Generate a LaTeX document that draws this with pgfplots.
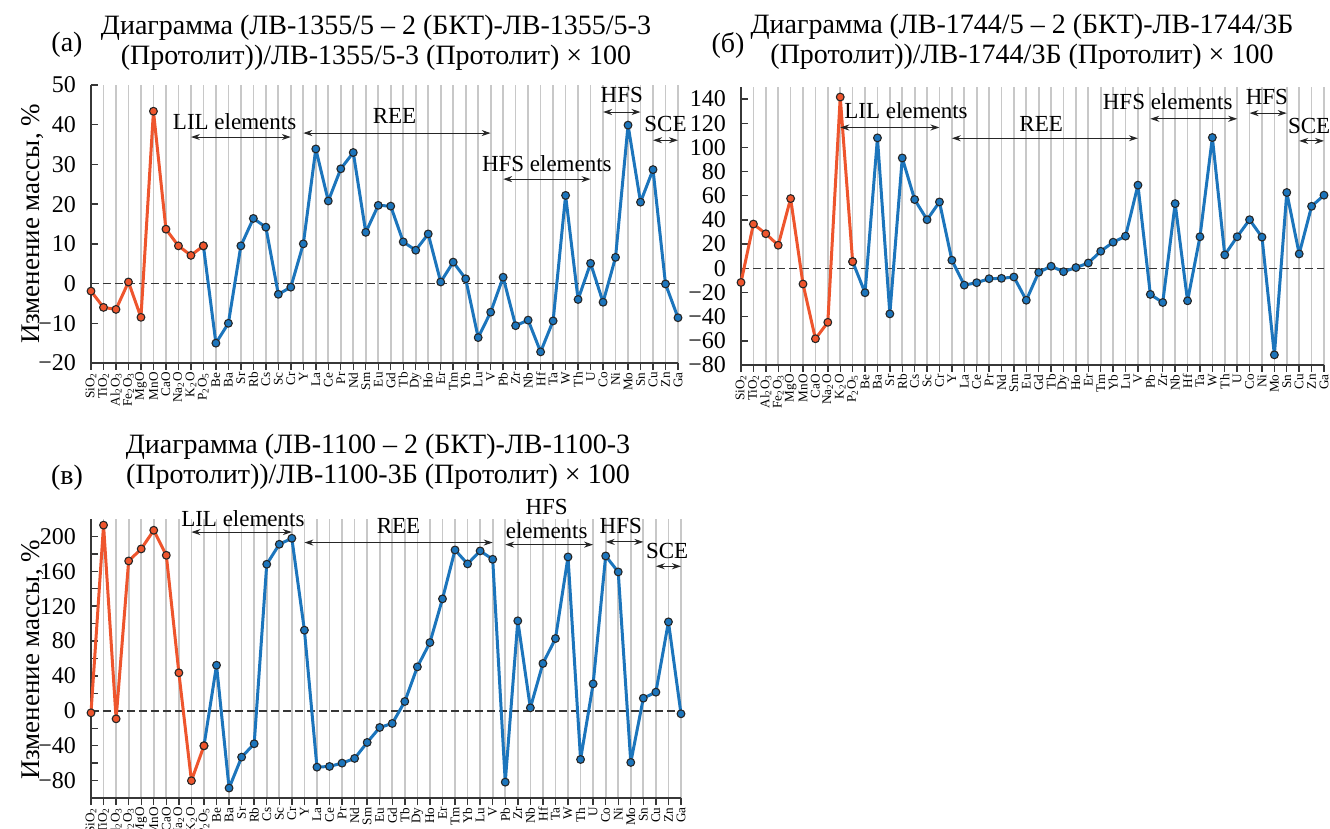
\documentclass[border=0pt]{standalone}
\usepackage{fontspec}
\setmainfont{Liberation Serif}
\usepackage{pgfplots}
\pgfplotsset{compat=1.18}
\usetikzlibrary{arrows.meta}
\definecolor{cOr}{RGB}{238,85,45}
\definecolor{cBl}{RGB}{28,117,188}
\definecolor{cGrid}{RGB}{200,200,200}
\definecolor{cAx}{RGB}{55,55,55}
\pgfplotsset{
  panel/.style={
    scale only axis, clip=false,
    xmin=0, xmax=47,
    axis x line*=bottom, axis y line*=left,
    axis line style={line width=0.8pt, color=cAx},
    xtick={0,...,47},
    xticklabels={SiO\textsubscript{2},TiO\textsubscript{2},Al\textsubscript{2}O\textsubscript{3},Fe\textsubscript{2}O\textsubscript{3},MgO,MnO,CaO,Na\textsubscript{2}O,K\textsubscript{2}O,P\textsubscript{2}O\textsubscript{5},Be,Ba,Sr,Rb,Cs,Sc,Cr,Y,La,Ce,Pr,Nd,Sm,Eu,Gd,Tb,Dy,Ho,Er,Tm,Yb,Lu,V,Pb,Zr,Nb,Hf,Ta,W,Th,U,Co,Ni,Mo,Sn,Cu,Zn,Ga},
    xticklabel style={rotate=90, anchor=east, font=\fontsize{6.6}{7}\selectfont, inner sep=1pt},
    yticklabel style={font=\fontsize{12}{13}\selectfont, xshift=-0.5pt},
    tick align=outside,
    major tick length=3.5pt,
    minor tick length=3.5pt,
    tick style={color=cAx, line width=0.7pt},
    ytick style={xshift=3.5pt},
    xmajorgrids,
    major x grid style={cGrid, line width=0.85pt},
  },
  zero/.style={cAx, line width=0.7pt, dash pattern=on 4pt off 2pt},
  blu/.style={cBl, line width=1.5pt, line join=round, line cap=round, mark=*, mark size=1.95pt, mark options={fill=cBl, draw=black!85, line width=0.55pt, solid}},
  ora/.style={cOr, line width=1.5pt, line join=round, line cap=round, mark=*, mark size=1.95pt, mark options={fill=cOr, draw=black!85, line width=0.55pt, solid}},
}
\tikzset{
  ann/.style={{Stealth[length=4.5pt,width=3pt]}-{Stealth[length=4.5pt,width=3pt]}, line width=0.5pt, black!85},
  lab/.style={font=\fontsize{11.5}{12}\selectfont, inner sep=0pt, align=center},
  ttl/.style={font=\fontsize{14}{15.2}\selectfont, align=center, inner sep=0pt},
}
\begin{document}
\begin{tikzpicture}
\useasboundingbox (0,0) rectangle (665pt,-414.5pt);
% ---------------- (a) ----------------
\begin{axis}[panel, at={(45.5pt,-181.5pt)}, anchor=south west,
  width=293.5pt, height=139pt, ymin=-20, ymax=50,
  ytick={-20,-10,0,10,20,30,40,50},
  yticklabels={−20,−10,0,10,20,30,40,50}]
\addplot[zero] coordinates {(0,0) (47,0)};
\addplot[blu] coordinates {
(9,9.5) (10,-15.0) (11,-10.0) (12,9.5) (13,16.4) (14,14.2) (15,-2.7) (16,-0.9)
(17,10.0) (18,33.9) (19,20.8) (20,28.9) (21,33.0) (22,12.9) (23,19.7) (24,19.5)
(25,10.5) (26,8.4) (27,12.5) (28,0.4) (29,5.4) (30,1.2) (31,-13.6) (32,-7.2)
(33,1.6) (34,-10.6) (35,-9.2) (36,-17.2) (37,-9.4) (38,22.2) (39,-4.0) (40,5.1)
(41,-4.7) (42,6.6) (43,39.9) (44,20.5) (45,28.7) (46,-0.1) (47,-8.6)};
\addplot[ora] coordinates {
(0,-1.9) (1,-6.0) (2,-6.5) (3,0.4) (4,-8.5) (5,43.4) (6,13.7) (7,9.5) (8,7.1) (9,9.5)};
\draw[ann] (axis cs:8,36.9) -- (axis cs:16,36.9);
\node[lab] at (axis cs:11.5,40.8) {LIL elements};
\draw[ann] (axis cs:17,37.9) -- (axis cs:32,37.9);
\node[lab] at (axis cs:24.3,42.2) {REE};
\draw[ann] (axis cs:33,26.3) -- (axis cs:40,26.3);
\node[lab] at (axis cs:36.5,30.3) {HFS elements};
\draw[ann] (axis cs:41,43.2) -- (axis cs:44,43.2);
\node[lab] at (axis cs:42.5,47.4) {HFS};
\draw[ann] (axis cs:45,36.1) -- (axis cs:47,36.1);
\node[lab] at (axis cs:46,40.3) {SCE};
\end{axis}
% ---------------- (b) ----------------
\begin{axis}[panel, at={(370.5pt,-182.5pt)}, anchor=south west,
  width=291.5pt, height=139pt, ymin=-80, ymax=150,
  ytick={-80,-60,...,140},
  yticklabels={−80,−60,−40,−20,0,20,40,60,80,100,120,140}]
\addplot[zero] coordinates {(0,0) (47,0)};
\addplot[blu] coordinates {
(9,5.5) (10,-20.2) (11,107.9) (12,-37.7) (13,91.3) (14,56.9) (15,40.2) (16,54.9)
(17,6.7) (18,-13.9) (19,-11.9) (20,-8.6) (21,-8.3) (22,-7.2) (23,-26.4) (24,-3.3)
(25,1.7) (26,-2.8) (27,0.6) (28,4.4) (29,14.1) (30,21.6) (31,26.6) (32,68.8)
(33,-21.6) (34,-28.3) (35,53.5) (36,-26.9) (37,26.1) (38,108.2) (39,11.1) (40,26.1)
(41,40.2) (42,25.8) (43,-71.6) (44,62.7) (45,11.9) (46,51.3) (47,60.5)};
\addplot[ora] coordinates {
(0,-11.7) (1,36.6) (2,28.6) (3,19.1) (4,57.7) (5,-13.0) (6,-58.3) (7,-44.7) (8,141.7) (9,5.5)};
\draw[ann] (axis cs:8,116.5) -- (axis cs:16,116.5);
\node[lab] at (axis cs:13.3,130.5) {LIL elements};
\draw[ann] (axis cs:17,107.6) -- (axis cs:32,107.6);
\node[lab] at (axis cs:24.2,119.5) {REE};
\draw[ann] (axis cs:33,123.7) -- (axis cs:40,123.7);
\node[lab] at (axis cs:34.4,137.5) {HFS elements};
\draw[ann] (axis cs:41,128.4) -- (axis cs:44,128.4);
\node[lab] at (axis cs:42.4,141.5) {HFS};
\draw[ann] (axis cs:45,105.4) -- (axis cs:47,105.4);
\node[lab] at (axis cs:45.8,118) {SCE};
\end{axis}
% ---------------- (c) ----------------
\begin{axis}[panel, at={(45.5pt,-399pt)}, anchor=south west,
  width=295pt, height=139.5pt, ymin=-100, ymax=220,
  ytick={-80,-40,...,200},
  yticklabels={−80,−40,0,40,80,120,160,200},
  minor y tick num=1]
\addplot[zero] coordinates {(0,0) (47,0)};
\addplot[blu] coordinates {
(9,-40.1) (10,52.3) (11,-88.6) (12,-53.1) (13,-37.8) (14,168.1) (15,191.0) (16,197.9)
(17,92.5) (18,-64.6) (19,-63.8) (20,-60.0) (21,-54.6) (22,-36.3) (23,-19.1) (24,-14.5)
(25,10.7) (26,50.4) (27,78.3) (28,128.4) (29,184.5) (30,168.5) (31,183.4) (32,173.8)
(33,-81.8) (34,103.2) (35,3.4) (36,54.3) (37,82.9) (38,176.5) (39,-55.8) (40,30.9)
(41,177.6) (42,159.3) (43,-59.2) (44,14.5) (45,21.4) (46,102.0) (47,-3.4)};
\addplot[ora] coordinates {
(0,-2.3) (1,213.0) (2,-9.2) (3,171.9) (4,185.7) (5,207.1) (6,178.4) (7,43.6) (8,-80.2) (9,-40.1)};
\draw[ann] (axis cs:8,205) -- (axis cs:16,205);
\node[lab] at (axis cs:12.1,220.5) {LIL elements};
\draw[ann] (axis cs:17,193) -- (axis cs:32,193);
\node[lab] at (axis cs:24.5,211.5) {REE};
\draw[ann] (axis cs:33,190.6) -- (axis cs:40,190.6);
\node[lab] at (axis cs:36.3,220) {HFS\\elements};
\draw[ann] (axis cs:41,193.7) -- (axis cs:44,193.7);
\node[lab] at (axis cs:42.2,212) {HFS};
\draw[ann] (axis cs:45,165.8) -- (axis cs:47,165.8);
\node[lab] at (axis cs:45.9,183) {SCE};
\end{axis}
% ---------------- titles and labels ----------------
\node[ttl] at (188pt,-21.5pt) {Диаграмма (ЛВ-1355/5 – 2 (БКТ)-ЛВ-1355/5-3\\(Протолит))/ЛВ-1355/5-3 (Протолит) × 100};
\node[ttl] at (33.5pt,-22.5pt) {(а)};
\node[ttl] at (511pt,-21pt) {Диаграмма (ЛВ-1744/5 – 2 (БКТ)-ЛВ-1744/3Б\\(Протолит))/ЛВ-1744/3Б (Протолит) × 100};
\node[ttl] at (364pt,-22.5pt) {(б)};
\node[ttl] at (189pt,-230.75pt) {Диаграмма (ЛВ-1100 – 2 (БКТ)-ЛВ-1100-3\\(Протолит))/ЛВ-1100-3Б (Протолит) × 100};
\node[ttl] at (33.5pt,-239pt) {(в)};
\node[rotate=90, font=\fontsize{13.5}{15}\selectfont, inner sep=0pt] at (16.5pt,-112pt) {Изменение массы, \%};
\node[rotate=90, font=\fontsize{13.5}{15}\selectfont, inner sep=0pt] at (16.5pt,-330pt) {Изменение массы, \%};
\end{tikzpicture}
\end{document}
